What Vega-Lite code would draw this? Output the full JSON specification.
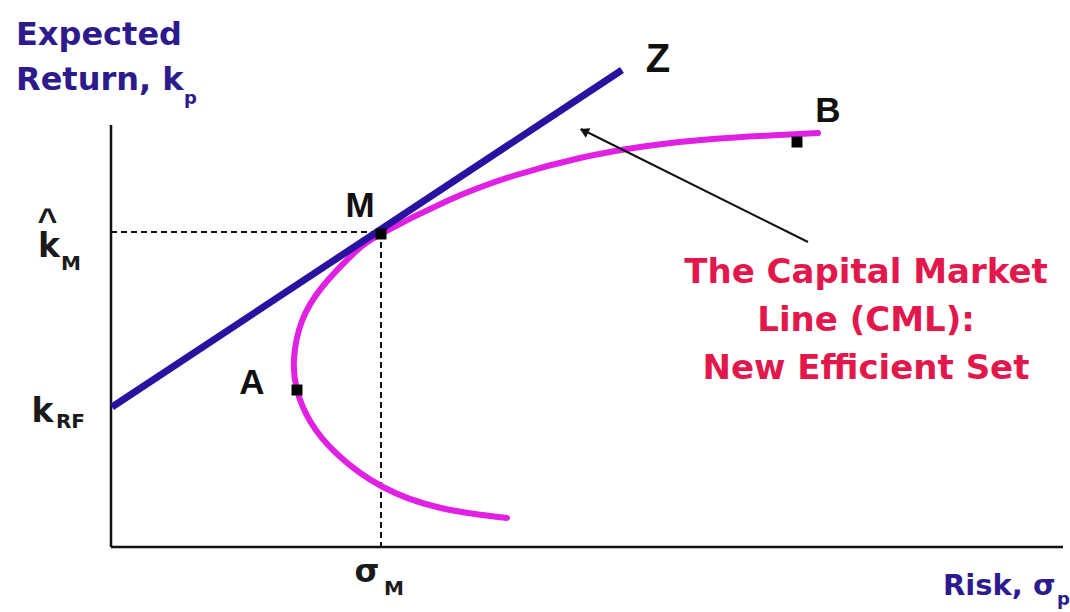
{
  "$schema": "https://vega.github.io/schema/vega-lite/v6.json",
  "width": 1070,
  "height": 612,
  "padding": 0,
  "autosize": {"type": "fit", "contains": "padding"},
  "background": "white",
  "config": {"view": {"stroke": null}},
  "encoding": {
    "x": {"field": "x", "type": "quantitative", "scale": {"domain": [-11.1, 95.9], "nice": false, "zero": false}, "axis": null},
    "y": {"field": "y", "type": "quantitative", "scale": {"domain": [-6.5, 54.7], "nice": false, "zero": false}, "axis": null}
  },
  "layer": [
    {
      "data": {"values": [
        {"x": 0, "y": 0, "x2": 95.2, "y2": 0},
        {"x": 0, "y": 0, "x2": 0, "y2": 42.2}
      ]},
      "mark": {"type": "rule", "color": "#111111", "strokeWidth": 2.5},
      "encoding": {"x2": {"field": "x2"}, "y2": {"field": "y2"}}
    },
    {
      "data": {"values": [
        {"x": 0, "y": 31.5, "x2": 27.0, "y2": 31.5},
        {"x": 27.0, "y": 31.5, "x2": 27.0, "y2": 0}
      ]},
      "mark": {"type": "rule", "color": "#111111", "strokeWidth": 2, "strokeDash": [6, 4]},
      "encoding": {"x2": {"field": "x2"}, "y2": {"field": "y2"}}
    },
    {
      "data": {"values": [
        {"i": 1, "x": 39.6, "y": 2.9},
        {"i": 2, "x": 33.0, "y": 3.9},
        {"i": 3, "x": 27.2, "y": 6.0},
        {"i": 4, "x": 22.6, "y": 9.3},
        {"i": 5, "x": 19.9, "y": 12.6},
        {"i": 6, "x": 18.6, "y": 15.7},
        {"i": 7, "x": 18.3, "y": 18.8},
        {"i": 8, "x": 19.1, "y": 22.6},
        {"i": 9, "x": 21.2, "y": 26.1},
        {"i": 10, "x": 24.2, "y": 29.3},
        {"i": 11, "x": 27.0, "y": 31.3},
        {"i": 12, "x": 33.6, "y": 34.6},
        {"i": 13, "x": 40.2, "y": 37.1},
        {"i": 14, "x": 46.9, "y": 38.9},
        {"i": 15, "x": 53.6, "y": 40.1},
        {"i": 16, "x": 60.2, "y": 40.8},
        {"i": 17, "x": 66.9, "y": 41.2},
        {"i": 18, "x": 70.7, "y": 41.4}
      ]},
      "mark": {"type": "line", "color": "#E020E3", "strokeWidth": 6, "interpolate": "natural", "strokeCap": "round"},
      "encoding": {"order": {"field": "i", "type": "quantitative"}}
    },
    {
      "data": {"values": [
        {"x": 0.1, "y": 14.0},
        {"x": 51.1, "y": 47.7}
      ]},
      "mark": {"type": "line", "color": "#2A12A0", "strokeWidth": 7},
      "encoding": {}
    },
    {
      "data": {"values": [
        {"x": 69.7, "y": 30.5, "x2": 47.0, "y2": 41.8}
      ]},
      "mark": {"type": "rule", "color": "#111111", "strokeWidth": 2},
      "encoding": {"x2": {"field": "x2"}, "y2": {"field": "y2"}}
    },
    {
      "data": {"values": [
        {"x": 47.3, "y": 41.6}
      ]},
      "mark": {"type": "point", "shape": "triangle-up", "filled": true, "color": "#111111", "opacity": 1, "size": 110, "angle": 296},
      "encoding": {}
    },
    {
      "data": {"values": [
        {"x": 27.0, "y": 31.3},
        {"x": 18.6, "y": 15.7},
        {"x": 68.6, "y": 40.5}
      ]},
      "mark": {"type": "point", "shape": "square", "filled": true, "color": "#000000", "opacity": 1, "size": 120},
      "encoding": {}
    },
    {
      "data": {"values": [
        {"x": 54.7, "y": 47.5, "t": "Z"}
      ]},
      "mark": {"type": "text", "font": "Liberation Sans", "fontWeight": "bold", "fontSize": 40, "color": "#111111", "align": "center", "baseline": "alphabetic"},
      "encoding": {"text": {"field": "t"}}
    },
    {
      "data": {"values": [
        {"x": 71.7, "y": 42.5, "t": "B"},
        {"x": 24.9, "y": 33.0, "t": "M"},
        {"x": 14.1, "y": 15.3, "t": "A"}
      ]},
      "mark": {"type": "text", "font": "Liberation Sans", "fontWeight": "bold", "fontSize": 35, "color": "#111111", "align": "center", "baseline": "alphabetic"},
      "encoding": {"text": {"field": "t"}}
    },
    {
      "data": {"values": [
        {"x": -6.2, "y": 29.0, "t": "k"},
        {"x": -6.85, "y": 12.5, "t": "k"}
      ]},
      "mark": {"type": "text", "font": "DejaVu Sans", "fontWeight": "bold", "fontSize": 33, "color": "#1a1a1a", "align": "center", "baseline": "alphabetic"},
      "encoding": {"text": {"field": "t"}}
    },
    {
      "data": {"values": [
        {"x": -6.35, "y": 31.6, "t": "^"}
      ]},
      "mark": {"type": "text", "font": "Liberation Sans", "fontWeight": "bold", "fontSize": 34, "color": "#1a1a1a", "align": "center", "baseline": "alphabetic"},
      "encoding": {"text": {"field": "t"}}
    },
    {
      "data": {"values": [
        {"x": -4.0, "y": 27.7, "t": "M"},
        {"x": -4.05, "y": 11.9, "t": "RF"},
        {"x": 28.3, "y": -4.8, "t": "M"}
      ]},
      "mark": {"type": "text", "font": "DejaVu Sans", "fontWeight": "bold", "fontSize": 20, "color": "#1a1a1a", "align": "center", "baseline": "alphabetic"},
      "encoding": {"text": {"field": "t"}}
    },
    {
      "data": {"values": [
        {"x": 25.6, "y": -3.5, "t": "σ"}
      ]},
      "mark": {"type": "text", "font": "DejaVu Sans", "fontWeight": "bold", "fontSize": 32, "color": "#1a1a1a", "align": "center", "baseline": "alphabetic"},
      "encoding": {"text": {"field": "t"}}
    },
    {
      "data": {"values": [
        {"x": -9.5, "y": 50.2, "t": "Expected"},
        {"x": -9.5, "y": 45.7, "t": "Return, k"}
      ]},
      "mark": {"type": "text", "font": "DejaVu Sans", "fontWeight": "bold", "fontSize": 32, "color": "#2D1B8E", "align": "left", "baseline": "alphabetic"},
      "encoding": {"text": {"field": "t"}}
    },
    {
      "data": {"values": [
        {"x": 83.2, "y": -4.8, "t": "Risk, σ"}
      ]},
      "mark": {"type": "text", "font": "DejaVu Sans", "fontWeight": "bold", "fontSize": 29, "color": "#2D1B8E", "align": "left", "baseline": "alphabetic"},
      "encoding": {"text": {"field": "t"}}
    },
    {
      "data": {"values": [
        {"x": 7.3, "y": 44.3, "t": "p"},
        {"x": 94.6, "y": -5.8, "t": "p"}
      ]},
      "mark": {"type": "text", "font": "DejaVu Sans", "fontWeight": "bold", "fontSize": 18, "color": "#2D1B8E", "align": "left", "baseline": "alphabetic"},
      "encoding": {"text": {"field": "t"}}
    },
    {
      "data": {"values": [
        {"x": 75.5, "y": 26.4, "t": "The Capital Market"},
        {"x": 75.5, "y": 21.6, "t": "Line (CML):"},
        {"x": 75.5, "y": 16.8, "t": "New Efficient Set"}
      ]},
      "mark": {"type": "text", "font": "DejaVu Sans", "fontWeight": "bold", "fontSize": 34, "color": "#E2184C", "align": "center", "baseline": "alphabetic"},
      "encoding": {"text": {"field": "t"}}
    }
  ]
}
